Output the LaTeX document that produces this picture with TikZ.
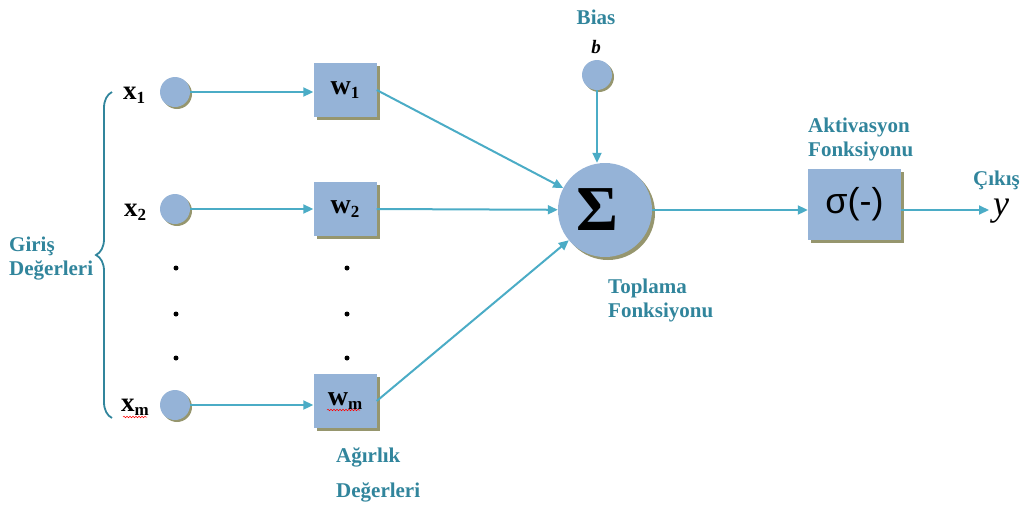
\documentclass[tikz,border=0pt]{standalone}
\usepackage{fontspec}
\setmainfont{Liberation Serif}
\newfontfamily\sansf{Liberation Sans}
\usetikzlibrary{arrows.meta,shadows,decorations.pathreplacing,decorations.pathmorphing}

\definecolor{nodefill}{RGB}{149,179,215}
\definecolor{linkcol}{RGB}{75,172,198}
\definecolor{labelcol}{RGB}{49,133,156}
\definecolor{shadowcol}{RGB}{150,150,110}

\newcommand{\sub}[1]{\raisebox{-4pt}{\fontsize{17}{17}\selectfont #1}}

\begin{document}
\begin{tikzpicture}[x=1pt,y=-1pt,
  unit/.style={circle, fill=nodefill, inner sep=0pt, minimum size=30pt,
    drop shadow={shadow xshift=2pt, shadow yshift=-2pt, fill=shadowcol, opacity=1}},
  wbox/.style={rectangle, fill=nodefill, inner sep=0pt, minimum width=63pt, minimum height=54pt,
    font=\bfseries\fontsize{28}{28}\selectfont,
    drop shadow={shadow xshift=3pt, shadow yshift=-3pt, fill=shadowcol, opacity=1}},
  sumnode/.style={circle, fill=nodefill, inner sep=0pt, minimum size=94pt,
    font=\bfseries\fontsize{64}{64}\selectfont,
    drop shadow={shadow xshift=3pt, shadow yshift=-3pt, fill=shadowcol, opacity=1}},
  actbox/.style={rectangle, fill=nodefill, inner sep=0pt, minimum width=93pt, minimum height=71pt,
    font=\sansf\fontsize{36}{36}\selectfont,
    drop shadow={shadow xshift=3pt, shadow yshift=-3pt, fill=shadowcol, opacity=1}},
  link/.style={draw=linkcol, line width=2pt, -{Triangle[length=10pt,width=9pt]}},
  lbl/.style={text=labelcol, font=\bfseries\fontsize{21}{24}\selectfont, align=left, inner sep=0pt},
  varlbl/.style={font=\bfseries\fontsize{27}{27}\selectfont, inner sep=0pt},
  spell/.style={draw=red, line width=0.5pt, decorate, decoration={snake, amplitude=0.8pt, segment length=3pt}},
  dot/.style={fill=black}
]
\useasboundingbox (0,0) rectangle (1023,507);

% inputs
\node[unit] (x1) at (175,92) {};
\node[unit] (x2) at (175,209) {};
\node[unit] (xm) at (175,405) {};
\node[varlbl] (lx1) at (134,95) {x\sub{1}};
\node[varlbl] (lx2) at (135,212) {x\sub{2}};
\node[varlbl] (lxm) at (135,407) {x\sub{m}};
\draw[spell] (123,417) -- (147,417);

% weights
\node[wbox] (w1) at (345,90) {w\sub{1}};
\node[wbox] (w2) at (345,209) {w\sub{2}};
\node[wbox] (wm) at (345,401) {w\sub{m}};
\draw[spell] (327,410) -- (360,410);

% ellipsis dots
\foreach \yy in {268,314,358} {
  \fill[dot] (176,\yy) circle (2.5);
  \fill[dot] (347,\yy) circle (2.5);
}

% summation, bias and activation
\node[sumnode] (sig) at (605,210) {Σ\kern16pt};
\node[unit] (b) at (597,75) {};
\node[actbox] (act) at (854.5,204.5) {σ(-)};
\node[font=\itshape\fontsize{36}{36}\selectfont, inner sep=0pt, anchor=base west] (yl) at (993,215) {y};
\coordinate (yend) at (989,210);

% connectors
\draw[link] (x1.east) -- (x1.east -| w1.west);
\draw[link] (x2.east) -- (x2.east -| w2.west);
\draw[link] (xm.east) -- (xm.east -| wm.west);
\draw[link] (w1.east) -- (sig);
\draw[link] (w2.east) -- (sig);
\draw[link] (wm.east) -- (sig);
\draw[link] (b.south) -- (b.south |- sig.north);
\draw[link] (sig.east) -- (sig.east -| act.west);
\draw[link] (act.east |- yend) -- (yend);

% brace around the inputs
\draw[draw=labelcol, line width=1.8pt, decorate, decoration={brace, amplitude=16pt}] (112,418) -- (112,92);

% labels (multi-line nodes are anchored on their last baseline)
\node[lbl] (tbias) at (596,17) {Bias};
\node[font=\bfseries\itshape\fontsize{19}{19}\selectfont, inner sep=0pt] (tb) at (596,47) {b};
\node[lbl, anchor=base west] (tsum) at (608,317) {Toplama\\Fonksiyonu};
\node[lbl, anchor=base west] (tact) at (808,156) {Aktivasyon\\Fonksiyonu};
\node[lbl, anchor=base west] (tout) at (973,185) {Çıkış};
\node[lbl, anchor=base west] (tin) at (9,275) {Giriş\\Değerleri};
\node[lbl, anchor=base west, font=\bfseries\fontsize{21}{35}\selectfont] (tw) at (336,497) {Ağırlık\\Değerleri};
\end{tikzpicture}
\end{document}
